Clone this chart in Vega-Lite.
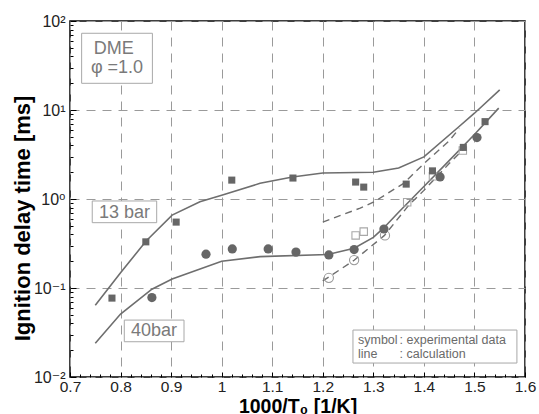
{
  "$schema": "https://vega.github.io/schema/vega-lite/v6.json",
  "width": 455,
  "height": 356,
  "autosize": "none",
  "padding": {"left": 70, "top": 21, "right": 14, "bottom": 37},
  "background": "white",
  "config": {
    "view": {"stroke": "black", "strokeWidth": 1.5},
    "font": "Liberation Sans"
  },
  "datasets": {
    "pts": [
      {"series": "13 bar calc", "x": 0.75, "y": 0.064},
      {"series": "13 bar calc", "x": 0.8, "y": 0.148},
      {"series": "13 bar calc", "x": 0.851, "y": 0.34},
      {"series": "13 bar calc", "x": 0.902, "y": 0.66},
      {"series": "13 bar calc", "x": 0.957, "y": 0.93},
      {"series": "13 bar calc", "x": 1.0, "y": 1.1},
      {"series": "13 bar calc", "x": 1.076, "y": 1.5},
      {"series": "13 bar calc", "x": 1.14, "y": 1.77},
      {"series": "13 bar calc", "x": 1.2, "y": 1.96},
      {"series": "13 bar calc", "x": 1.3, "y": 2.0},
      {"series": "13 bar calc", "x": 1.35, "y": 2.23},
      {"series": "13 bar calc", "x": 1.4, "y": 2.97},
      {"series": "13 bar calc", "x": 1.468, "y": 6.4},
      {"series": "13 bar calc", "x": 1.5, "y": 9.2},
      {"series": "13 bar calc", "x": 1.55, "y": 16.8},
      {"series": "40 bar calc", "x": 0.75, "y": 0.024},
      {"series": "40 bar calc", "x": 0.8, "y": 0.051},
      {"series": "40 bar calc", "x": 0.862, "y": 0.097},
      {"series": "40 bar calc", "x": 0.902, "y": 0.126},
      {"series": "40 bar calc", "x": 1.0, "y": 0.2},
      {"series": "40 bar calc", "x": 1.076, "y": 0.225},
      {"series": "40 bar calc", "x": 1.21, "y": 0.238},
      {"series": "40 bar calc", "x": 1.262, "y": 0.28},
      {"series": "40 bar calc", "x": 1.3, "y": 0.37},
      {"series": "40 bar calc", "x": 1.32, "y": 0.47},
      {"series": "40 bar calc", "x": 1.35, "y": 0.71},
      {"series": "40 bar calc", "x": 1.4, "y": 1.38},
      {"series": "40 bar calc", "x": 1.45, "y": 2.7},
      {"series": "40 bar calc", "x": 1.5, "y": 5.3},
      {"series": "40 bar calc", "x": 1.548, "y": 10.5},
      {"series": "13 bar dash", "x": 1.2, "y": 0.55},
      {"series": "13 bar dash", "x": 1.274, "y": 0.79},
      {"series": "13 bar dash", "x": 1.3, "y": 0.92},
      {"series": "13 bar dash", "x": 1.36, "y": 1.5},
      {"series": "13 bar dash", "x": 1.4, "y": 2.5},
      {"series": "13 bar dash", "x": 1.45, "y": 4.5},
      {"series": "13 bar dash", "x": 1.47, "y": 6.2},
      {"series": "40 bar dash", "x": 1.2, "y": 0.12},
      {"series": "40 bar dash", "x": 1.262, "y": 0.205},
      {"series": "40 bar dash", "x": 1.322, "y": 0.39},
      {"series": "40 bar dash", "x": 1.37, "y": 0.85},
      {"series": "40 bar dash", "x": 1.4, "y": 1.25},
      {"series": "40 bar dash", "x": 1.45, "y": 2.5},
      {"series": "40 bar dash", "x": 1.48, "y": 3.7},
      {"series": "13 bar exp", "x": 0.783, "y": 0.077},
      {"series": "13 bar exp", "x": 0.85, "y": 0.33},
      {"series": "13 bar exp", "x": 0.91, "y": 0.55},
      {"series": "13 bar exp", "x": 1.02, "y": 1.63},
      {"series": "13 bar exp", "x": 1.141, "y": 1.72},
      {"series": "13 bar exp", "x": 1.265, "y": 1.55},
      {"series": "13 bar exp", "x": 1.281, "y": 1.36},
      {"series": "13 bar exp", "x": 1.365, "y": 1.47},
      {"series": "13 bar exp", "x": 1.417, "y": 2.07},
      {"series": "13 bar exp", "x": 1.478, "y": 3.8},
      {"series": "13 bar exp", "x": 1.521, "y": 7.4},
      {"series": "40 bar exp", "x": 0.862, "y": 0.078},
      {"series": "40 bar exp", "x": 0.969, "y": 0.24},
      {"series": "40 bar exp", "x": 1.021, "y": 0.275},
      {"series": "40 bar exp", "x": 1.092, "y": 0.275},
      {"series": "40 bar exp", "x": 1.147, "y": 0.253},
      {"series": "40 bar exp", "x": 1.212, "y": 0.235},
      {"series": "40 bar exp", "x": 1.262, "y": 0.27},
      {"series": "40 bar exp", "x": 1.321, "y": 0.46},
      {"series": "40 bar exp", "x": 1.432, "y": 1.77},
      {"series": "40 bar exp", "x": 1.505, "y": 4.9},
      {"series": "40 bar open", "x": 1.212, "y": 0.13},
      {"series": "40 bar open", "x": 1.262, "y": 0.206},
      {"series": "40 bar open", "x": 1.323, "y": 0.39},
      {"series": "13 bar open", "x": 1.265, "y": 0.39},
      {"series": "13 bar open", "x": 1.281, "y": 0.43},
      {"series": "13 bar open", "x": 1.367, "y": 0.92},
      {"series": "13 bar open", "x": 1.418, "y": 1.8},
      {"series": "13 bar open", "x": 1.477, "y": 3.5}
    ],
    "boxes": [
      {"x": 0.723, "x2": 0.863, "y": 72.8, "y2": 19.95},
      {"x": 0.744, "x2": 0.8715, "y": 0.95, "y2": 0.542},
      {"x": 0.8074, "x2": 0.9255, "y": 0.0436, "y2": 0.0249},
      {"x": 1.2597, "x2": 1.584, "y": 0.0337, "y2": 0.01435}
    ],
    "big": [
      {"x": 0.7866, "y": 48.7, "text": "DME"},
      {"x": 0.793, "y": 30.0, "text": "φ =1.0"},
      {"x": 0.8078, "y": 0.697, "text": "13 bar"},
      {"x": 0.866, "y": 0.0327, "text": "40bar"}
    ],
    "small": [
      {"x": 1.2696, "y": 0.0261, "text": "symbol"},
      {"x": 1.352, "y": 0.0261, "text": ": experimental data"},
      {"x": 1.2696, "y": 0.0181, "text": "line"},
      {"x": 1.352, "y": 0.0181, "text": ": calculation"}
    ]
  },
  "resolve": {"axis": {"x": "independent", "y": "independent"}},
  "layer": [
    {
      "data": {"name": "pts"},
      "mark": {"type": "point", "opacity": 0},
      "encoding": {
        "x": {
          "field": "x", "type": "quantitative",
          "scale": {"domain": [0.7, 1.6], "nice": false, "zero": false},
          "axis": {
            "orient": "bottom",
            "values": [0.7, 0.8, 0.9, 1, 1.1, 1.2, 1.3, 1.4, 1.5, 1.6],
            "format": "~g",
            "labelFontSize": 15.5, "labelColor": "#222", "labelFont": "Liberation Sans",
            "labelPadding": 7, "labelFlush": false,
            "tickSize": -5, "tickColor": "black", "tickWidth": 1,
            "domain": false,
            "grid": true, "gridColor": "#9a9a9a", "gridDash": [9, 7], "gridWidth": 1,
            "title": "1000/T₀ [1/K]",
            "titleFont": "Liberation Sans", "titleFontSize": 19.5, "titleFontWeight": "bold", "titleColor": "black",
            "titleBaseline": "alphabetic", "titleY": 35
          }
        },
        "y": {
          "field": "y", "type": "quantitative",
          "scale": {"type": "log", "domain": [0.01, 100], "nice": false},
          "axis": {
            "orient": "left",
            "values": [0.01, 0.1, 1, 10, 100],
            "labelExpr": "datum.value >= 50 ? '10²' : datum.value >= 5 ? '10¹' : datum.value >= 0.5 ? '10⁰' : datum.value >= 0.05 ? '10⁻¹' : '10⁻²'",
            "labelFontSize": 16, "labelColor": "#222", "labelFont": "Liberation Sans, DejaVu Sans",
            "labelPadding": 11, "labelFlush": false, "labelBaseline": "middle",
            "tickSize": -6, "tickColor": "black", "tickWidth": 1,
            "domain": false,
            "grid": true, "gridColor": "#9a9a9a", "gridDash": [9, 7], "gridWidth": 1,
            "title": "Ignition delay time [ms]",
            "titleFont": "Liberation Sans", "titleFontSize": 22, "titleFontWeight": "bold", "titleColor": "black",
            "titleAngle": -90, "titleAlign": "center", "titleBaseline": "alphabetic",
            "titleX": -41, "titleY": 197
          }
        }
      }
    },
    {
      "data": {"name": "pts"},
      "mark": {"type": "point", "opacity": 0},
      "encoding": {
        "x": {
          "field": "x", "type": "quantitative",
          "axis": {
            "orient": "bottom",
            "values": [0.72, 0.74, 0.76, 0.78, 0.82, 0.84, 0.86, 0.88, 0.92, 0.94, 0.96, 0.98, 1.02, 1.04, 1.06, 1.08, 1.12, 1.14, 1.16, 1.18, 1.22, 1.24, 1.26, 1.28, 1.32, 1.34, 1.36, 1.38, 1.42, 1.44, 1.46, 1.48, 1.52, 1.54, 1.56, 1.58],
            "labels": false, "tickSize": -3, "tickColor": "black", "tickWidth": 1,
            "domain": false, "grid": false, "title": null
          }
        },
        "y": {
          "field": "y", "type": "quantitative",
          "axis": {
            "orient": "left",
            "values": [0.02, 0.03, 0.04, 0.05, 0.06, 0.07, 0.08, 0.09, 0.2, 0.3, 0.4, 0.5, 0.6, 0.7, 0.8, 0.9, 2, 3, 4, 5, 6, 7, 8, 9, 20, 30, 40, 50, 60, 70, 80, 90],
            "labels": false, "tickSize": -3, "tickColor": "black", "tickWidth": 1,
            "domain": false, "grid": false, "title": null
          }
        }
      }
    },
    {
      "data": {"name": "boxes"},
      "mark": {"type": "rect", "fill": "white", "stroke": "#a8a8a8", "strokeWidth": 1},
      "encoding": {
        "x": {"field": "x", "type": "quantitative", "axis": null},
        "x2": {"field": "x2"},
        "y": {"field": "y", "type": "quantitative", "axis": null},
        "y2": {"field": "y2"}
      }
    },
    {
      "data": {"name": "big"},
      "mark": {"type": "text", "font": "Liberation Sans", "fontSize": 18, "color": "#7a7a7a", "align": "center", "baseline": "middle"},
      "encoding": {
        "x": {"field": "x", "type": "quantitative", "axis": null},
        "y": {"field": "y", "type": "quantitative", "axis": null},
        "text": {"field": "text"}
      }
    },
    {
      "data": {"name": "small"},
      "mark": {"type": "text", "font": "Liberation Sans", "fontSize": 12.5, "color": "#6a6a6a", "align": "left", "baseline": "middle"},
      "encoding": {
        "x": {"field": "x", "type": "quantitative", "axis": null},
        "y": {"field": "y", "type": "quantitative", "axis": null},
        "text": {"field": "text"}
      }
    },
    {
      "data": {"name": "pts"},
      "transform": [{"filter": "datum.series == '13 bar calc' || datum.series == '40 bar calc'"}],
      "mark": {"type": "line", "color": "#6e6e6e", "strokeWidth": 1.6},
      "encoding": {
        "x": {"field": "x", "type": "quantitative", "axis": null},
        "y": {"field": "y", "type": "quantitative", "axis": null},
        "detail": {"field": "series"}
      }
    },
    {
      "data": {"name": "pts"},
      "transform": [{"filter": "datum.series == '13 bar dash' || datum.series == '40 bar dash'"}],
      "mark": {"type": "line", "color": "#6e6e6e", "strokeWidth": 1.4, "strokeDash": [7, 5]},
      "encoding": {
        "x": {"field": "x", "type": "quantitative", "axis": null},
        "y": {"field": "y", "type": "quantitative", "axis": null},
        "detail": {"field": "series"}
      }
    },
    {
      "data": {"name": "pts"},
      "transform": [{"filter": "datum.series == '40 bar open'"}],
      "mark": {"type": "point", "shape": "circle", "filled": false, "size": 85, "stroke": "#9a9a9a", "strokeWidth": 1.1, "opacity": 1},
      "encoding": {
        "x": {"field": "x", "type": "quantitative", "axis": null},
        "y": {"field": "y", "type": "quantitative", "axis": null}
      }
    },
    {
      "data": {"name": "pts"},
      "transform": [{"filter": "datum.series == '13 bar open'"}],
      "mark": {"type": "point", "shape": "square", "filled": false, "size": 55, "stroke": "#a8a8a8", "strokeWidth": 1.1, "opacity": 1},
      "encoding": {
        "x": {"field": "x", "type": "quantitative", "axis": null},
        "y": {"field": "y", "type": "quantitative", "axis": null}
      }
    },
    {
      "data": {"name": "pts"},
      "transform": [{"filter": "datum.series == '13 bar exp'"}],
      "mark": {"type": "square", "size": 50, "color": "#666666", "opacity": 1},
      "encoding": {
        "x": {"field": "x", "type": "quantitative", "axis": null},
        "y": {"field": "y", "type": "quantitative", "axis": null}
      }
    },
    {
      "data": {"name": "pts"},
      "transform": [{"filter": "datum.series == '40 bar exp'"}],
      "mark": {"type": "circle", "size": 85, "color": "#666666", "opacity": 1},
      "encoding": {
        "x": {"field": "x", "type": "quantitative", "axis": null},
        "y": {"field": "y", "type": "quantitative", "axis": null}
      }
    }
  ]
}
